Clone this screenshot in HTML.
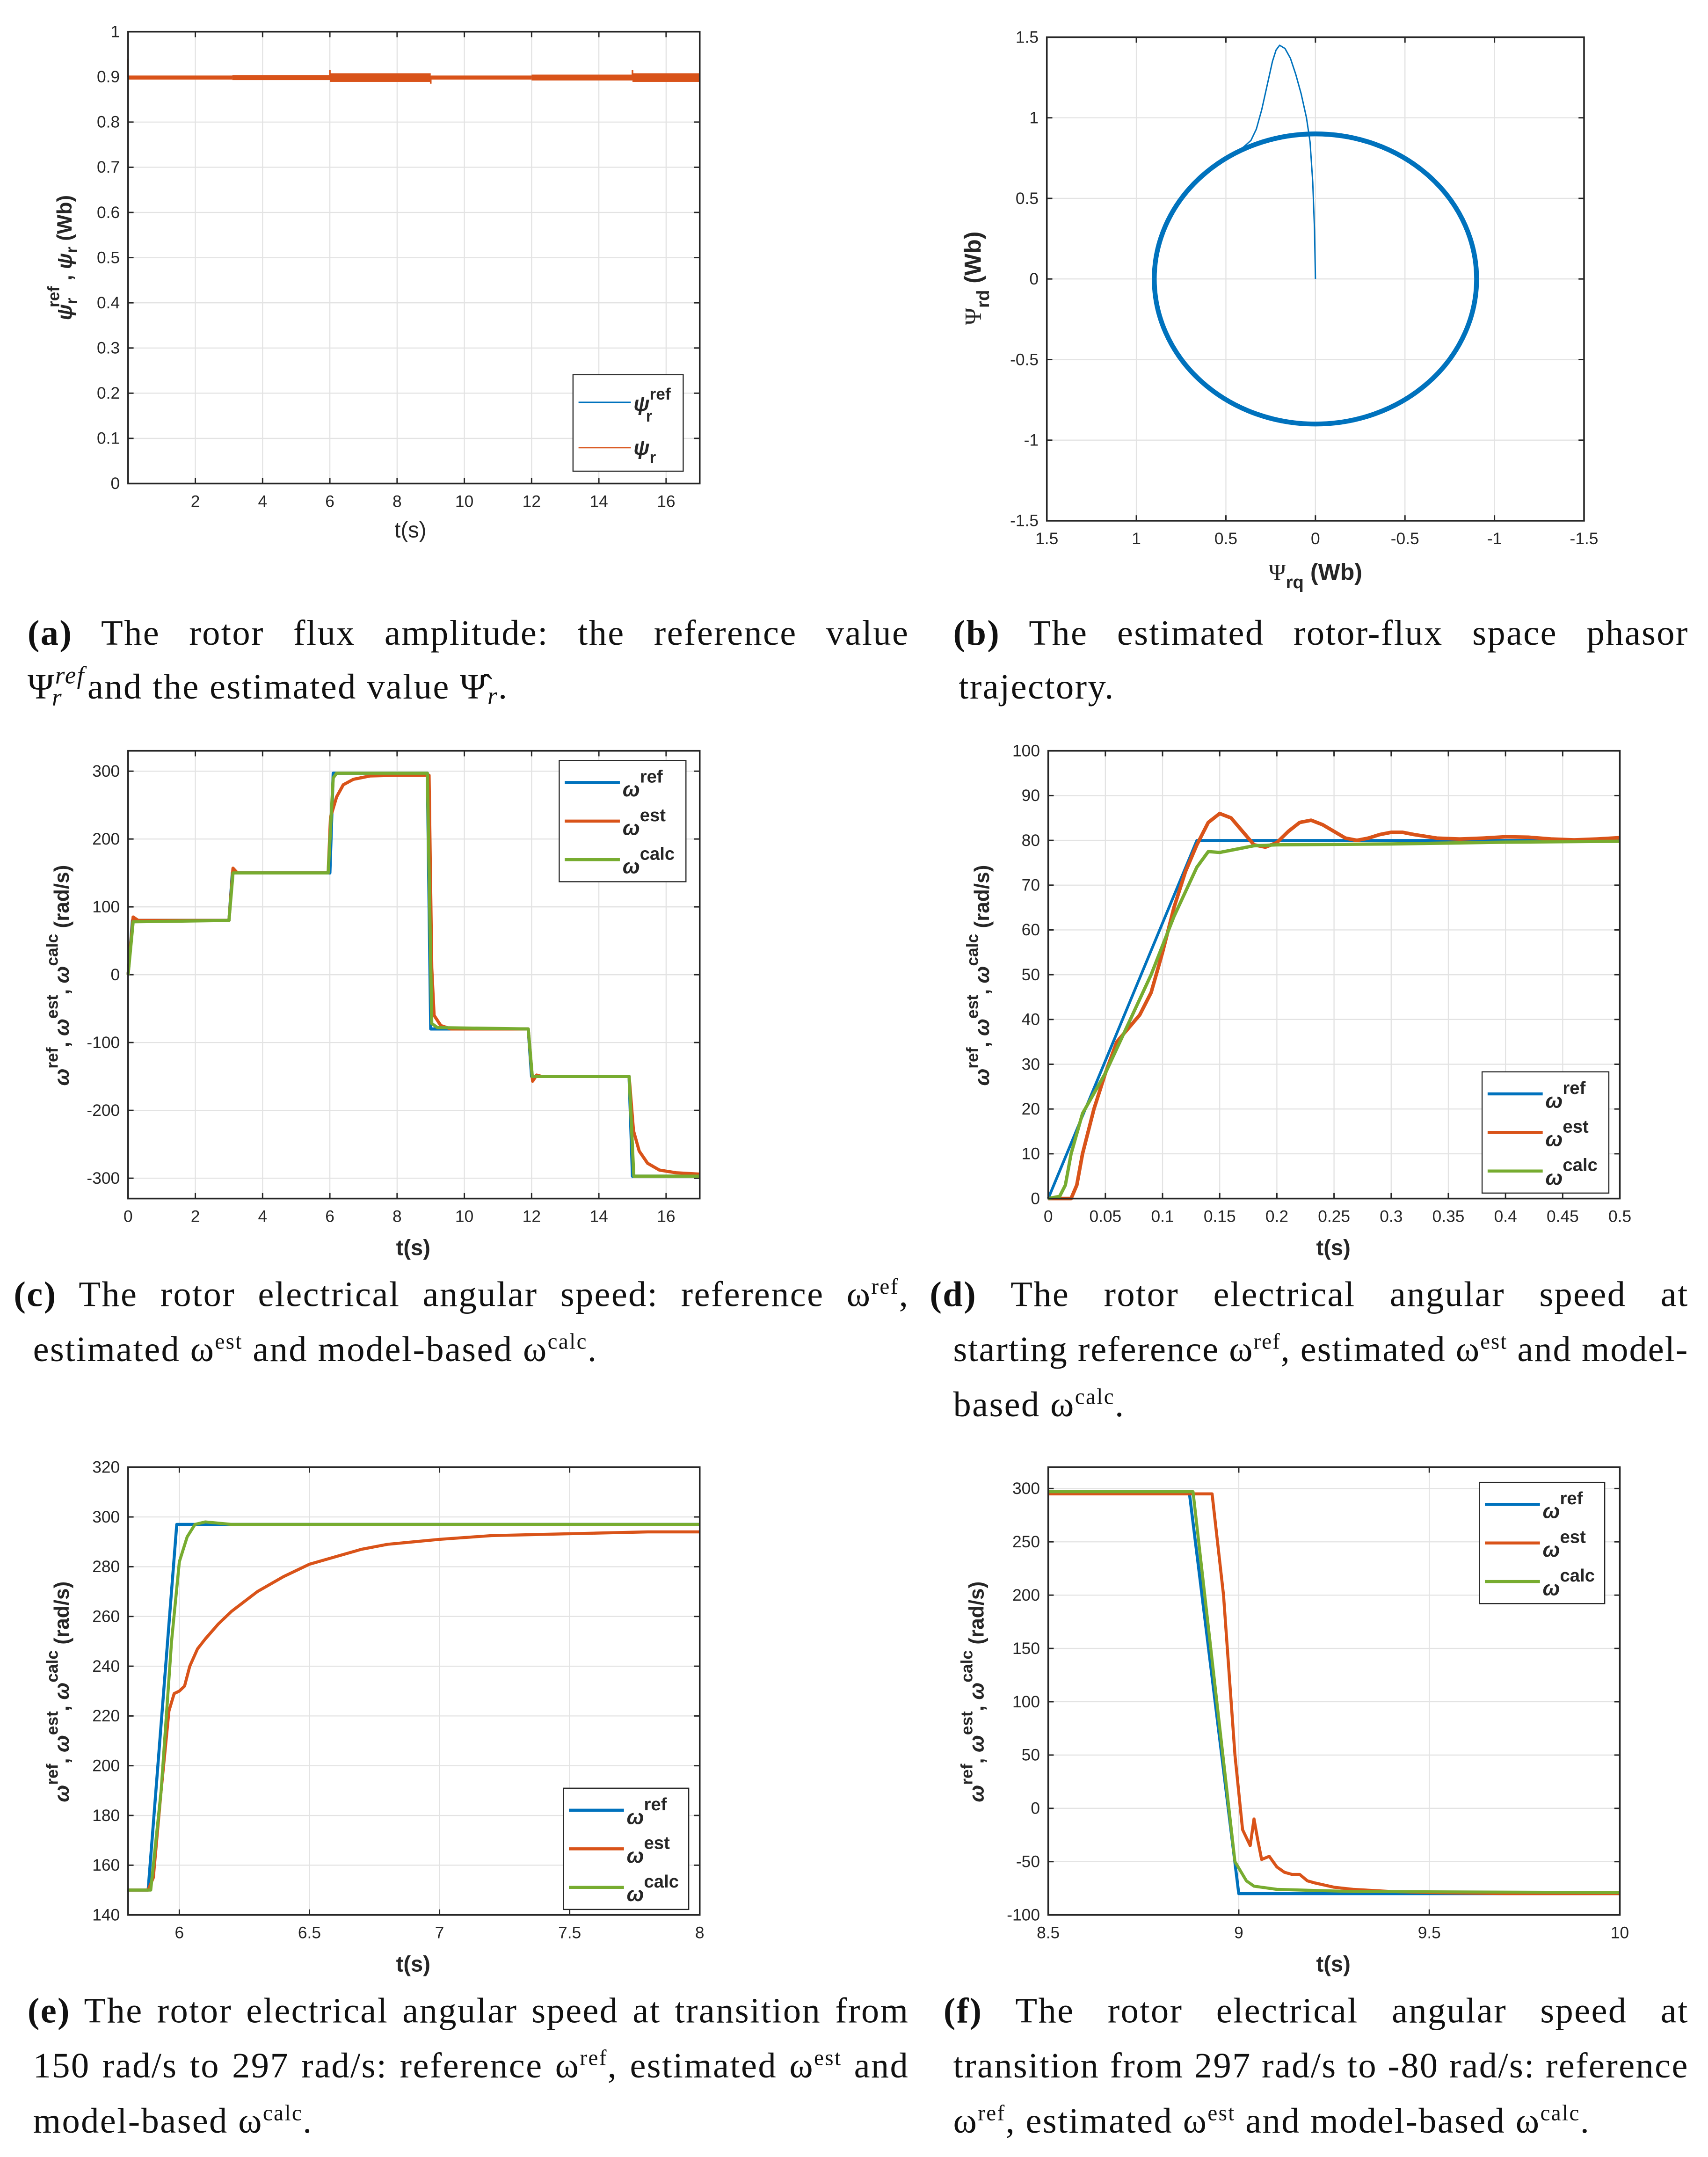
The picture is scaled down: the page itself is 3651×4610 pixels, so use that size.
<!DOCTYPE html>
<html><head><meta charset="utf-8"><style>
html,body{margin:0;padding:0;background:#fff}
svg{display:block}
</style></head><body>
<svg id="fig" xmlns="http://www.w3.org/2000/svg" width="3651" height="4610" viewBox="0 0 1240 1565.7" preserveAspectRatio="none">
<rect width="1240" height="1565.7" fill="#fff"/>
<g id="plots"></g>
<g id="captions" font-family="'Liberation Serif', serif" font-size="26" letter-spacing="0.8" fill="#111">
<text class="just" data-w="640" x="20" y="468"><tspan font-weight="bold">(a)</tspan>    The rotor flux amplitude: the reference value</text>
<text x="20" y="507">Ψ<tspan font-style="italic" font-size="18" dy="-11">ref</tspan><tspan font-style="italic" font-size="18" dx="-24" dy="16">r</tspan><tspan dx="18" dy="-5">and the estimated value  Ψ̂</tspan><tspan font-style="italic" font-size="18" dy="4">r</tspan><tspan dy="-4">.</tspan></text>
<text class="just" data-w="534" x="692" y="468"><tspan font-weight="bold">(b)</tspan>   The estimated rotor-flux space phasor</text>
<text x="696" y="507">trajectory.</text>
<text class="just" data-w="650" x="10" y="948"><tspan font-weight="bold">(c)</tspan>     The rotor electrical angular speed: reference ω<tspan font-size="16" dy="-9">ref</tspan><tspan dy="9">,</tspan></text>
<text x="24" y="988">estimated ω<tspan font-size="16" dy="-9">est</tspan><tspan dy="9"> and model-based ω</tspan><tspan font-size="16" dy="-9">calc</tspan><tspan dy="9">.</tspan></text>
<text class="just" data-w="551" x="675" y="948"><tspan font-weight="bold">(d)</tspan>     The rotor electrical angular speed at</text>
<text class="just" data-w="534" x="692" y="988">starting reference ω<tspan font-size="16" dy="-9">ref</tspan><tspan dy="9">, estimated ω</tspan><tspan font-size="16" dy="-9">est</tspan><tspan dy="9"> and model-</tspan></text>
<text x="692" y="1028">based ω<tspan font-size="16" dy="-9">calc</tspan><tspan dy="9">.</tspan></text>
<text class="just" data-w="640" x="20" y="1468"><tspan font-weight="bold">(e)</tspan>   The rotor electrical angular speed at transition from</text>
<text class="just" data-w="636" x="24" y="1508">150 rad/s to 297 rad/s: reference ω<tspan font-size="16" dy="-9">ref</tspan><tspan dy="9">, estimated ω</tspan><tspan font-size="16" dy="-9">est</tspan><tspan dy="9"> and</tspan></text>
<text x="24" y="1548">model-based ω<tspan font-size="16" dy="-9">calc</tspan><tspan dy="9">.</tspan></text>
<text class="just" data-w="541" x="685" y="1468"><tspan font-weight="bold">(f)</tspan>     The rotor electrical angular speed at</text>
<text class="just" data-w="534" x="692" y="1508">transition from 297 rad/s to -80 rad/s: reference</text>
<text x="692" y="1548">ω<tspan font-size="16" dy="-9">ref</tspan><tspan dy="9">, estimated ω</tspan><tspan font-size="16" dy="-9">est</tspan><tspan dy="9"> and model-based ω</tspan><tspan font-size="16" dy="-9">calc</tspan><tspan dy="9">.</tspan></text>
</g>
</svg>
<script>
// ---- data: panel (a)
const fluxRefValue = 0.9;
const fluxBandStart = [0, 3.1, 6.0, 9.0, 12.0, 15.0];
const fluxBandEnd   = [3.1, 6.0, 9.0, 12.0, 15.0, 17.0];
const fluxBandAmp   = [0.003, 0.004, 0.008, 0.003, 0.005, 0.008];
const fluxSpikeT    = [0.0, 6.0, 9.0, 15.0];
const fluxSpikeV    = [0.94, 0.915, 0.885, 0.915];
// ---- data: panel (b) transient (q, d) and circle radius
const phasorQ = [0, 0.005, 0.015, 0.03, 0.05, 0.08, 0.11, 0.14, 0.17, 0.2, 0.22, 0.24, 0.27, 0.3, 0.33, 0.36, 0.4, 0.5, 0.6];
const phasorD = [0, 0.3, 0.6, 0.85, 1.0, 1.15, 1.27, 1.37, 1.43, 1.45, 1.42, 1.35, 1.2, 1.05, 0.93, 0.86, 0.82, 0.74, 0.66];
const circleRadius = 0.9;
// ---- data: panel (c)
const cRefT = [0,0.13,3.0,3.1,6.0,6.1,8.9,9.0,11.9,12.0,14.9,15.0,17];
const cRefV = [0,80,80,150,150,297,297,-80,-80,-150,-150,-297,-297];
const cEstT = [0,0.05,0.15,0.3,3.0,3.12,3.25,3.4,5.95,6.02,6.2,6.4,6.7,7.2,8,8.95,9.03,9.1,9.3,9.6,11.9,12.03,12.15,12.3,14.9,15.03,15.2,15.45,15.8,16.3,17];
const cEstV = [0,30,85,80,80,157,150,150,150,232,262,280,288,293,294,294,10,-60,-75,-80,-80,-157,-148,-150,-150,-230,-260,-278,-288,-292,-294];
const cCalcT = [0,0.15,3.0,3.12,5.95,6.1,6.2,8.9,9.03,9.2,11.9,12.02,14.9,15.04,17];
const cCalcV = [0,78,80,150,150,290,297,297,-72,-78,-80,-150,-150,-297,-297];
// ---- data: panel (d)
const dRefT = [0, 0.13, 0.5];
const dRefV = [0, 80, 80];
const dEstT = [0,0.02,0.025,0.03,0.04,0.05,0.06,0.07,0.08,0.09,0.1,0.11,0.12,0.13,0.14,0.15,0.16,0.17,0.18,0.19,0.2,0.21,0.22,0.23,0.24,0.25,0.26,0.27,0.28,0.29,0.3,0.31,0.32,0.34,0.36,0.38,0.4,0.42,0.44,0.46,0.48,0.5];
const dEstV = [0,0,3,10,20,28,35,38,41,46,55,65,73,79,84,86,85,82,79,78.5,79.5,82,84,84.5,83.5,82,80.5,80,80.5,81.3,81.8,81.8,81.3,80.5,80.3,80.5,80.8,80.7,80.3,80.1,80.3,80.6];
const dCalcT = [0,0.01,0.015,0.02,0.03,0.05,0.07,0.09,0.11,0.13,0.14,0.15,0.16,0.18,0.2,0.3,0.4,0.5];
const dCalcV = [0,0.5,3,10,19,28,39,50,63,74,77.5,77.3,77.8,78.8,79,79.2,79.6,79.8];
// ---- data: panel (e)
const eRefT = [5.8, 5.88, 5.99, 8];
const eRefV = [150, 150, 297, 297];
const eEstT = [5.8,5.88,5.9,5.93,5.96,5.98,6.0,6.02,6.04,6.07,6.1,6.15,6.2,6.3,6.4,6.5,6.6,6.7,6.8,6.9,7.0,7.2,7.4,7.6,7.8,8];
const eEstV = [150,150,155,190,222,229,230,232,240,247,251,257,262,270,276,281,284,287,289,290,291,292.5,293,293.5,294,294];
const eCalcT = [5.8,5.89,5.93,5.97,6.0,6.03,6.06,6.1,6.2,8];
const eCalcV = [150,150,190,250,282,292,297,298,297,297];
// ---- data: panel (f)
const fRefT = [8.5, 8.87, 9.0, 10];
const fRefV = [297, 297, -80, -80];
const fEstT = [8.5,8.93,8.96,8.99,9.01,9.03,9.04,9.05,9.06,9.08,9.1,9.12,9.14,9.16,9.18,9.2,9.25,9.3,9.4,9.5,9.7,10];
const fEstV = [295,295,200,50,-20,-35,-10,-30,-48,-45,-55,-60,-62,-62,-68,-70,-74,-76,-78,-79,-80,-80];
const fCalcT = [8.5,8.88,8.99,9.02,9.04,9.1,9.3,10];
const fCalcV = [297,297,-50,-68,-73,-76,-78,-79];

const NS = 'http://www.w3.org/2000/svg';
const plots = document.getElementById('plots');
function el(tag, attrs, parent){
  const e = document.createElementNS(NS, tag);
  for (const k in attrs) e.setAttribute(k, attrs[k]);
  (parent||plots).appendChild(e);
  return e;
}
const BLUE='#0072BD', ORANGE='#D95319', GREEN='#77AC30';

function makeAxes(p){
  const g = el('g', {});
  
  
  const sx = v => p.x0 + (v - p.xmin) / (p.xmax - p.xmin) * (p.x1 - p.x0);
  const sy = v => p.y1 - (v - p.ymin) / (p.ymax - p.ymin) * (p.y1 - p.y0);
  el('rect', {x:p.x0, y:p.y0, width:p.x1-p.x0, height:p.y1-p.y0, fill:'#fff'}, g);
  p.xticks.forEach((t, i) => {
    const X = sx(t);
    el('line', {x1:X, x2:X, y1:p.y0, y2:p.y1, stroke:'#e3e3e3', 'stroke-width':0.8}, g);
    el('line', {x1:X, x2:X, y1:p.y1, y2:p.y1-4, stroke:'#262626', 'stroke-width':1}, g);
    el('line', {x1:X, x2:X, y1:p.y0, y2:p.y0+4, stroke:'#262626', 'stroke-width':1}, g);
    const tx = el('text', {x:X, y:p.y1+17, 'text-anchor':'middle', 'font-family':"'Liberation Sans', sans-serif", 'font-size':12, fill:'#262626'}, g);
    
    
    tx.textContent = p.xlabels[i];
  });
  p.yticks.forEach((t, i) => {
    const Y = sy(t);
    el('line', {x1:p.x0, x2:p.x1, y1:Y, y2:Y, stroke:'#e3e3e3', 'stroke-width':0.8}, g);
    el('line', {x1:p.x0, x2:p.x0+4, y1:Y, y2:Y, stroke:'#262626', 'stroke-width':1}, g);
    el('line', {x1:p.x1, x2:p.x1-4, y1:Y, y2:Y, stroke:'#262626', 'stroke-width':1}, g);
    const ty = el('text', {x:p.x0-6, y:Y+4, 'text-anchor':'end', 'font-family':"'Liberation Sans', sans-serif", 'font-size':12, fill:'#262626'}, g);
    
    
    ty.textContent = p.ylabels[i];
  });
  const marks = el('g', {}, g);
  const frame = el('rect', {x:p.x0, y:p.y0, width:p.x1-p.x0, height:p.y1-p.y0, fill:'none', stroke:'#262626', 'stroke-width':1.2}, g);
  
  
  return {g, marks, sx, sy, p};
}
function line(ax, ts, vs, color, w, name){
  const pts = ts.map((t, i) => ax.sx(t).toFixed(2) + ',' + ax.sy(vs[i]).toFixed(2)).join(' ');
  const pl = el('polyline', {points:pts, fill:'none', stroke:color, 'stroke-width':w, 'stroke-linejoin':'round'}, ax.marks);
  
  
  return pl;
}
function xlabel(x, y, txt, bold){
  const t = el('text', {x:x, y:y, 'text-anchor':'middle', 'font-family':"'Liberation Sans', sans-serif", 'font-size':16, 'font-weight':bold?'bold':'normal', fill:'#262626'});
  
  
  t.textContent = txt;
}
function omegaYLabel(x, y){
  const t = el('text', {transform:`translate(${x},${y}) rotate(-90)`, 'text-anchor':'middle', 'font-family':"'Liberation Sans', sans-serif", 'font-size':15, 'font-weight':'bold', fill:'#262626'});
  
  
  t.innerHTML = '<tspan font-style="italic">ω</tspan><tspan font-size="12" dy="-8">ref</tspan><tspan dy="8">, </tspan><tspan font-style="italic">ω</tspan><tspan font-size="12" dy="-8">est</tspan><tspan dy="8">, </tspan><tspan font-style="italic">ω</tspan><tspan font-size="12" dy="-8">calc</tspan><tspan dy="8"> (rad/s)</tspan>';
}
function omegaLegend(x, y, w, h){
  const g = el('g', {});
  
  
  el('rect', {x:x, y:y, width:w, height:h, fill:'#fff', stroke:'#262626', 'stroke-width':0.8}, g);
  const names = ['ref', 'est', 'calc'], cols = [BLUE, ORANGE, GREEN];
  names.forEach((n, i) => {
    const yy = y + 16 + i * 28;
    const ln = el('line', {x1:x+4, x2:x+44, y1:yy, y2:yy, stroke:cols[i], 'stroke-width':2.2}, g);
    
    
    const t = el('text', {x:x+46, y:yy+10, 'font-family':"'Liberation Sans', sans-serif", 'font-size':15, 'font-weight':'bold', fill:'#262626'}, g);
    
    
    t.innerHTML = '<tspan font-style="italic">ω</tspan><tspan font-size="13" dy="-10">' + n + '</tspan>';
  });
}
const range = (a, b, s) => { const r = []; for (let v = a; v <= b + 1e-9; v += s) r.push(+v.toFixed(6)); return r; };

// ---- panel (a)
(function(){
  const xt = range(2, 16, 2), yt = range(0, 1, 0.1);
  const ax = makeAxes({name:'panel-a-flux', x0:93, y0:23, x1:508, y1:351, xmin:0, xmax:17, ymin:0, ymax:1,
    xticks:xt, xlabels:xt.map(String), yticks:yt, ylabels:yt.map(v => v === 0 ? '0' : v === 1 ? '1' : v.toFixed(1))});
  line(ax, [0, 17], [fluxRefValue, fluxRefValue], BLUE, 0.8, 'series-flux-ref');
  fluxBandStart.forEach((s, i) => {
    const r = el('rect', {x:ax.sx(s), y:ax.sy(fluxRefValue + fluxBandAmp[i]), width:ax.sx(fluxBandEnd[i]) - ax.sx(s),
      height:ax.sy(fluxRefValue - fluxBandAmp[i]) - ax.sy(fluxRefValue + fluxBandAmp[i]) + 1, fill:ORANGE}, ax.marks);
    
    
  });
  fluxSpikeT.forEach((t, i) => {
    const s = el('line', {x1:ax.sx(t), x2:ax.sx(t), y1:ax.sy(fluxRefValue), y2:ax.sy(fluxSpikeV[i]), stroke:ORANGE, 'stroke-width':1.2}, ax.marks);
    
    
  });
  xlabel(298, 390, 't(s)', false);
  const yl = el('text', {transform:'translate(52,187) rotate(-90)', 'text-anchor':'middle', 'font-family':"'Liberation Sans', sans-serif", 'font-size':15, 'font-weight':'bold', fill:'#262626'});
  
  
  yl.innerHTML = '<tspan font-style="italic">ψ</tspan><tspan font-size="12" dy="4">r</tspan><tspan font-size="12" dx="-7" dy="-13">ref</tspan><tspan dy="9"> , </tspan><tspan font-style="italic">ψ</tspan><tspan font-size="12" dy="4">r</tspan><tspan dy="-4"> (Wb)</tspan>';
  const lg = el('g', {});
  
  
  el('rect', {x:416, y:272, width:80, height:70, fill:'#fff', stroke:'#262626', 'stroke-width':0.8}, lg);
  el('line', {x1:420, x2:458, y1:292, y2:292, stroke:BLUE, 'stroke-width':0.9}, lg);
  el('line', {x1:420, x2:458, y1:325, y2:325, stroke:ORANGE, 'stroke-width':0.9}, lg);
  const l1 = el('text', {x:460, y:298, 'font-family':"'Liberation Sans', sans-serif", 'font-size':15, 'font-weight':'bold', fill:'#262626'}, lg);
  
  
  l1.innerHTML = '<tspan font-style="italic">ψ</tspan><tspan font-size="12" dy="-8">ref</tspan><tspan font-size="12" dx="-18" dy="16">r</tspan>';
  const l2 = el('text', {x:460, y:330, 'font-family':"'Liberation Sans', sans-serif", 'font-size':15, 'font-weight':'bold', fill:'#262626'}, lg);
  
  
  l2.innerHTML = '<tspan font-style="italic">ψ</tspan><tspan font-size="12" dy="6">r</tspan>';
})();

// ---- panel (b)
(function(){
  const xt = range(-1.5, 1.5, 0.5), yt = range(-1.5, 1.5, 0.5);
  const fmt = v => (Math.abs(v) < 1e-9 ? '0' : String(v));
  const ax = makeAxes({name:'panel-b-phasor', x0:760, y0:27, x1:1150, y1:378, xmin:1.5, xmax:-1.5, ymin:-1.5, ymax:1.5,
    xticks:xt, xlabels:xt.map(fmt), yticks:yt, ylabels:yt.map(fmt)});
  const c = el('ellipse', {cx:ax.sx(0), cy:ax.sy(0), rx:Math.abs(ax.sx(circleRadius) - ax.sx(0)), ry:Math.abs(ax.sy(circleRadius) - ax.sy(0)), fill:'none', stroke:BLUE, 'stroke-width':3.5}, ax.marks);
  
  
  line(ax, phasorQ, phasorD, BLUE, 1, 'series-flux-transient');
  const xl = el('text', {x:955, y:421, 'text-anchor':'middle', 'font-family':"'Liberation Sans', sans-serif", 'font-size':17, 'font-weight':'bold', fill:'#262626'});
  
  
  xl.innerHTML = '<tspan font-weight="normal" font-family="\'Liberation Serif\', serif">Ψ</tspan><tspan font-size="13" dy="6">rq</tspan><tspan dy="-6"> (Wb)</tspan>';
  const yl = el('text', {transform:'translate(712,202) rotate(-90)', 'text-anchor':'middle', 'font-family':"'Liberation Sans', sans-serif", 'font-size':17, 'font-weight':'bold', fill:'#262626'});
  
  
  yl.innerHTML = '<tspan font-weight="normal" font-family="\'Liberation Serif\', serif">Ψ</tspan><tspan font-size="13" dy="6">rd</tspan><tspan dy="-6"> (Wb)</tspan>';
})();

// ---- panel (c)
(function(){
  const xt = range(0, 16, 2), yt = range(-300, 300, 100);
  const ax = makeAxes({name:'panel-c-speed', x0:93, y0:545, x1:508, y1:870, xmin:0, xmax:17, ymin:-330, ymax:330,
    xticks:xt, xlabels:xt.map(String), yticks:yt, ylabels:yt.map(String)});
  line(ax, cRefT, cRefV, BLUE, 2.3, 'series-omega-ref');
  line(ax, cEstT, cEstV, ORANGE, 2.3, 'series-omega-est');
  line(ax, cCalcT, cCalcV, GREEN, 2.3, 'series-omega-calc');
  omegaLegend(406, 552, 92, 88);
  xlabel(300, 911, 't(s)', true);
  omegaYLabel(50, 708);
})();

// ---- panel (d)
(function(){
  const xt = range(0, 0.5, 0.05), yt = range(0, 100, 10);
  const ax = makeAxes({name:'panel-d-start', x0:761, y0:545, x1:1176, y1:870, xmin:0, xmax:0.5, ymin:0, ymax:100,
    xticks:xt, xlabels:xt.map(v => String(v)), yticks:yt, ylabels:yt.map(String)});
  line(ax, dRefT, dRefV, BLUE, 2, 'series-omega-ref');
  line(ax, dEstT, dEstV, ORANGE, 2.6, 'series-omega-est');
  line(ax, dCalcT, dCalcV, GREEN, 2.4, 'series-omega-calc');
  omegaLegend(1076, 778, 92, 88);
  xlabel(968, 911, 't(s)', true);
  omegaYLabel(718, 708);
})();

// ---- panel (e)
(function(){
  const xt = [6, 6.5, 7, 7.5, 8], yt = range(140, 320, 20);
  const ax = makeAxes({name:'panel-e-transition-up', x0:93, y0:1065, x1:508, y1:1390, xmin:5.803, xmax:8, ymin:140, ymax:320,
    xticks:xt, xlabels:xt.map(String), yticks:yt, ylabels:yt.map(String)});
  line(ax, eRefT, eRefV, BLUE, 2.2, 'series-omega-ref');
  line(ax, eEstT, eEstV, ORANGE, 2.2, 'series-omega-est');
  line(ax, eCalcT, eCalcV, GREEN, 2.2, 'series-omega-calc');
  omegaLegend(409, 1298, 91, 88);
  xlabel(300, 1431, 't(s)', true);
  omegaYLabel(50, 1228);
})();

// ---- panel (f)
(function(){
  const xt = [8.5, 9, 9.5, 10], yt = range(-100, 300, 50);
  const ax = makeAxes({name:'panel-f-transition-down', x0:761, y0:1065, x1:1176, y1:1390, xmin:8.5, xmax:10, ymin:-100, ymax:320,
    xticks:xt, xlabels:xt.map(String), yticks:yt, ylabels:yt.map(String)});
  line(ax, fRefT, fRefV, BLUE, 2.2, 'series-omega-ref');
  line(ax, fEstT, fEstV, ORANGE, 2.2, 'series-omega-est');
  line(ax, fCalcT, fCalcV, GREEN, 2.2, 'series-omega-calc');
  omegaLegend(1074, 1076, 91, 88);
  xlabel(968, 1431, 't(s)', true);
  omegaYLabel(714, 1228);
})();

// ---- justify caption lines using word-spacing
document.querySelectorAll('text.just').forEach(t => {
  const target = parseFloat(t.getAttribute('data-w'));
  const w = t.getComputedTextLength();
  const spaces = (t.textContent.replace(/\s+/g, ' ').trim().match(/ /g) || []).length;
  if (spaces > 0 && w < target) t.setAttribute('word-spacing', ((target - w) / spaces).toFixed(2));
  else if (w > target) t.setAttribute('textLength', target);
});
</script>
</body></html>
